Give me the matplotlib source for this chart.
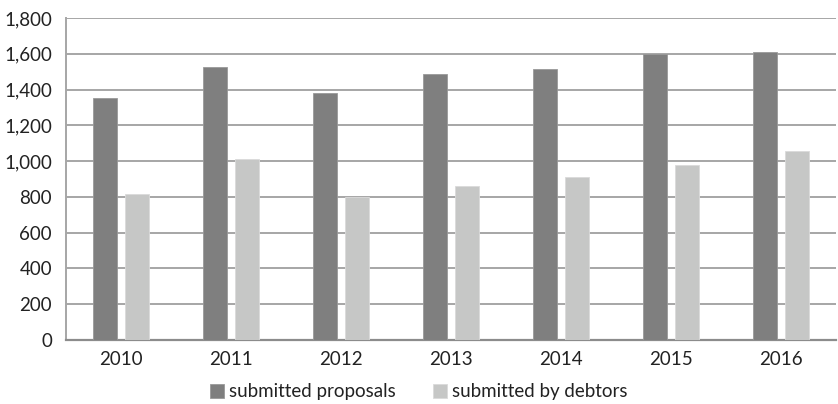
import matplotlib
matplotlib.use("Agg")
import matplotlib.pyplot as plt
import numpy as np

years = ["2010", "2011", "2012", "2013", "2014", "2015", "2016"]
submitted_proposals = [1355, 1524, 1381, 1489, 1517, 1597, 1612]
submitted_by_debtors = [818, 1010, 798, 861, 909, 978, 1055]
y_ticks = [0, 200, 400, 600, 800, 1000, 1200, 1400, 1600, 1800]

plt.rcParams["font.family"] = ["Lato", "DejaVu Sans"]

fig = plt.figure(figsize=(8.38, 4.04), dpi=100)
ax = fig.add_axes([66 / 838, 64 / 404, 770 / 838, 322 / 404])

x = np.arange(len(years))
width = 0.22
offset = 0.142
ax.bar(x - offset, submitted_proposals, width, color="#7f7f7f",
       edgecolor="#9a9a9a", linewidth=0.6, label="submitted proposals", zorder=3)
ax.bar(x + offset, submitted_by_debtors, width, color="#c6c7c6",
       edgecolor="#dadada", linewidth=0.6, label="submitted by debtors", zorder=3)

ax.set_xlim(-0.5, len(years) - 0.5)
ax.set_ylim(0, 1800)
ax.set_yticks(y_ticks)
ax.set_yticklabels([f"{v:,}" for v in y_ticks])
ax.set_xticks(x)
ax.set_xticklabels(years)
ax.tick_params(axis="both", length=0, labelsize=13.5, colors="#222222")
ax.tick_params(axis="y", pad=10)
ax.tick_params(axis="x", pad=8)

ax.yaxis.grid(True, color="#a6a6a6", linewidth=1.4, zorder=0)
ax.set_axisbelow(True)
for side in ["top", "right"]:
    ax.spines[side].set_visible(False)
ax.spines["left"].set_color("#a6a6a6")
ax.spines["left"].set_linewidth(1.4)
ax.spines["bottom"].set_color("#8c8c8c")
ax.spines["bottom"].set_linewidth(1.6)

fig.legend(loc="center", bbox_to_anchor=(0.5, 12 / 404), ncol=2, frameon=False,
           fontsize=13.5, handlelength=0.75, handleheight=0.75, handletextpad=0.25,
           columnspacing=2.0, labelcolor="#222222")

fig.savefig("out.png", dpi=100)
